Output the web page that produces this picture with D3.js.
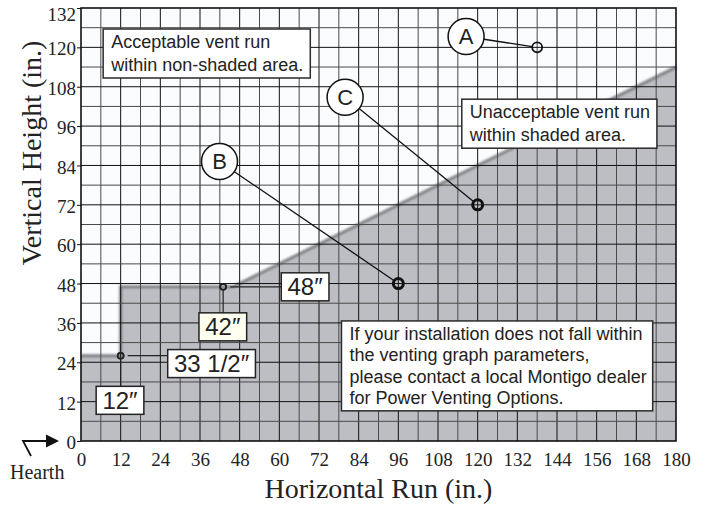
<!DOCTYPE html>
<html>
<head>
<meta charset="utf-8">
<script src="https://cdn.jsdelivr.net/npm/d3@7"></script>
<style>
  body { margin: 0; background: #fff; }
  svg { display: block; }
  .tick-label { font-family: 'Liberation Serif', 'Times New Roman', serif; font-size: 19px; fill: #222; }
  .axis-title { font-family: 'Liberation Serif', 'Times New Roman', serif; font-size: 28px; fill: #222; }
  .note { font-family: 'Liberation Sans', Arial, sans-serif; font-size: 18px; fill: #222; }
  .dim { font-family: 'Liberation Sans', Arial, sans-serif; font-size: 24px; fill: #222; }
  .callout { font-family: 'Liberation Sans', Arial, sans-serif; font-size: 22px; fill: #222; }
</style>
</head>
<body>
<svg></svg>
<script>
const CHART_SIZE = { width: 707, height: 506 };
const PLOT = { left: 81, right: 676, top: 8, bottom: 441 };

// tick labels
const xTickLabels = [0, 12, 24, 36, 48, 60, 72, 84, 96, 108, 120, 132, 144, 156, 168, 180];
const yTickLabels = [0, 12, 24, 36, 48, 60, 72, 84, 96, 108, 120, 132];

// limit line between acceptable / unacceptable (in.)
const limitRun = [0, 12, 12, 46, 180];
const limitHeight = [26, 26, 47, 47, 114];

// lettered example installations
const calloutNames = ['A', 'B', 'C'];
const calloutRun = [138, 96, 120];
const calloutHeight = [120, 48, 72];
const calloutLabelRun = [116.5, 41.9, 79.9];
const calloutLabelHeight = [123.3, 85.2, 104.8];

// dimension labels on the limit line
const dimLabels = ['12″', '33 1/2″', '42″', '48″'];
const dimRun = [12, 12, 43, 43];
const dimHeight = [26, 26, 47, 47];
const dimLabelRun = [11.8, 39.5, 42.9, 67.8];
const dimLabelHeight = [12.4, 23.6, 34.8, 47];
const dimLeader = ['v', 'h', 'v', 'h'];
const dimFill = ['#fff', '#fff', '#fffff0', '#fff'];

// text notes
const noteLines = [
  ['Acceptable vent run', 'within non-shaded area.'],
  ['Unacceptable vent run', 'within shaded area.'],
  ['If your installation does not fall within', 'the venting graph parameters,',
   'please contact a local Montigo dealer', 'for Power Venting Options.']
];
const noteRun = [6.7, 115.2, 78.8];
const noteHeight = [125.6, 104.2, 36.6];

const svg = d3.select('svg')
  .attr('width', CHART_SIZE.width)
  .attr('height', CHART_SIZE.height);

const x = d3.scaleLinear().domain([0, 180]).range([PLOT.left, PLOT.right]);
const y = d3.scaleLinear().domain([0, 132]).range([PLOT.bottom, PLOT.top]);

const defs = svg.append('defs');
defs.append('filter').attr('id', 'soft')
  .append('feGaussianBlur').attr('stdDeviation', 0.9);

// background
svg.append('rect')
  .attr('x', x(0)).attr('y', y(132))
  .attr('width', x(180) - x(0)).attr('height', y(0) - y(132))
  .attr('fill', '#fbfcfe');

// shaded area
const limitPts = limitRun.map((r, i) => [r, limitHeight[i]]);
const area = d3.area()
  .x(d => x(d[0]))
  .y0(y(0))
  .y1(d => y(d[1]));
svg.append('path')
  .attr('d', area(limitPts))
  .attr('fill', '#bdbec3');

const line = d3.line().x(d => x(d[0])).y(d => y(d[1]));
svg.append('path')
  .attr('d', line(limitPts))
  .attr('fill', 'none')
  .attr('stroke', '#7e7f83')
  .attr('stroke-width', 3)
  .attr('filter', 'url(#soft)');

// grid
const grid = svg.append('g').attr('class', 'grid');
grid.selectAll('line.vx')
  .data(d3.range(6, 180, 6))
  .join('line')
  .attr('x1', d => x(d)).attr('x2', d => x(d))
  .attr('y1', y(0)).attr('y2', y(132))
  .attr('stroke', d => d % 12 === 0 ? '#111' : '#4a4a4a')
  .attr('stroke-width', 1);
grid.selectAll('line.hy')
  .data(d3.range(6, 132, 6))
  .join('line')
  .attr('y1', d => y(d)).attr('y2', d => y(d))
  .attr('x1', x(0)).attr('x2', x(180))
  .attr('stroke', d => d % 12 === 0 ? '#111' : '#4a4a4a')
  .attr('stroke-width', 1);

svg.append('rect')
  .attr('x', x(0)).attr('y', y(132))
  .attr('width', x(180) - x(0)).attr('height', y(0) - y(132))
  .attr('fill', 'none')
  .attr('stroke', '#111')
  .attr('stroke-width', 1.6);

// axes
const yAxis = svg.append('g')
  .attr('transform', `translate(${x(0)},0)`)
  .call(d3.axisLeft(y).tickValues(yTickLabels).tickSize(4).tickPadding(1));
yAxis.select('.domain').remove();
yAxis.selectAll('.tick line').attr('stroke', '#111');
yAxis.selectAll('.tick text')
  .attr('class', 'tick-label')
  .attr('dy', d => d === 132 ? '0.66em' : '0.4em');
yAxis.attr('font-size', null).attr('font-family', null);

const xAxis = svg.append('g')
  .attr('transform', `translate(0,${y(0)})`)
  .call(d3.axisBottom(x).tickValues(xTickLabels).tickSize(0).tickPadding(12));
xAxis.select('.domain').remove();
xAxis.selectAll('.tick text').attr('class', 'tick-label');
xAxis.attr('font-size', null).attr('font-family', null);

svg.append('text')
  .attr('class', 'axis-title')
  .attr('x', (x(0) + x(180)) / 2)
  .attr('y', 498)
  .attr('text-anchor', 'middle')
  .text('Horizontal Run (in.)');

svg.append('text')
  .attr('class', 'axis-title')
  .attr('transform', 'rotate(-90)')
  .attr('x', -153)
  .attr('y', 41)
  .attr('text-anchor', 'middle')
  .text('Vertical Height (in.)');

// hearth marker
const hy = y(0);
svg.append('path')
  .attr('d', `M31,${hy + 15}L23,${hy}L50,${hy}`)
  .attr('fill', 'none').attr('stroke', '#111').attr('stroke-width', 1.8);
svg.append('path')
  .attr('d', `M59,${hy}L46,${hy - 6.5}L46,${hy + 6.5}Z`)
  .attr('fill', '#111');
svg.append('text')
  .attr('class', 'tick-label')
  .attr('x', 10).attr('y', 479)
  .style('font-size', '20px')
  .text('Hearth');

// notes
noteLines.forEach((lines, i) => {
  const g = svg.append('g');
  const lh = i === 2 ? 21.3 : 23;
  const t = g.append('text').attr('class', 'note');
  lines.forEach((s, j) => {
    t.append('tspan')
      .attr('x', x(noteRun[i]) + 8)
      .attr('y', y(noteHeight[i]) + 19 + j * lh)
      .text(s);
  });
  const bb = t.node().getBBox();
  g.insert('rect', 'text')
    .attr('x', x(noteRun[i]))
    .attr('y', y(noteHeight[i]))
    .attr('width', bb.width + 14)
    .attr('height', bb.y + bb.height - y(noteHeight[i]) + 3)
    .attr('fill', '#fff')
    .attr('stroke', '#2a2a2a')
    .attr('stroke-width', 1.5);
});

// dimension leaders and labels
dimLabels.forEach((lab, i) => {
  const px = x(dimRun[i]), py = y(dimHeight[i]);
  const cx = x(dimLabelRun[i]), cy = y(dimLabelHeight[i]);
  const g = svg.append('g');
  const t = g.append('text').attr('class', 'dim')
    .attr('x', cx).attr('y', cy).attr('dy', '0.36em')
    .attr('text-anchor', 'middle').text(lab);
  const bb = t.node().getBBox();
  const bw = bb.width + 12, bh = 28;
  g.insert('rect', 'text')
    .attr('x', cx - bw / 2).attr('y', cy - bh / 2)
    .attr('width', bw).attr('height', bh)
    .attr('fill', dimFill[i]).attr('stroke', '#222').attr('stroke-width', 1.5);
  if (dimLeader[i] === 'v') {
    svg.append('line').attr('x1', px).attr('x2', px)
      .attr('y1', py + 4).attr('y2', cy - bh / 2)
      .attr('stroke', '#222').attr('stroke-width', 1.2);
  } else {
    svg.append('line').attr('y1', py).attr('y2', py)
      .attr('x1', px + 7).attr('x2', cx - bw / 2)
      .attr('stroke', '#222').attr('stroke-width', 1.2);
  }
  svg.append('circle').attr('cx', px).attr('cy', py).attr('r', 3)
    .attr('fill', 'none').attr('stroke', '#222').attr('stroke-width', 1.6);
});

// callouts A B C
calloutNames.forEach((name, i) => {
  const px = x(calloutRun[i]), py = y(calloutHeight[i]);
  const lx = x(calloutLabelRun[i]), ly = y(calloutLabelHeight[i]);
  const r = 18;
  const ang = Math.atan2(py - ly, px - lx);
  svg.append('line')
    .attr('x1', lx + r * Math.cos(ang)).attr('y1', ly + r * Math.sin(ang))
    .attr('x2', px - 5 * Math.cos(ang)).attr('y2', py - 5 * Math.sin(ang))
    .attr('stroke', '#111').attr('stroke-width', 1.3);
  svg.append('circle').attr('cx', lx).attr('cy', ly).attr('r', r)
    .attr('fill', '#fff').attr('stroke', '#111').attr('stroke-width', 1.5);
  svg.append('text').attr('class', 'callout')
    .attr('x', lx).attr('y', ly).attr('dy', '0.36em')
    .attr('text-anchor', 'middle').text(name);
  svg.append('circle').attr('cx', px).attr('cy', py).attr('r', 5)
    .attr('fill', 'none').attr('stroke', '#111').attr('stroke-width', i === 0 ? 1.8 : 3);
});
</script>
</body>
</html>
